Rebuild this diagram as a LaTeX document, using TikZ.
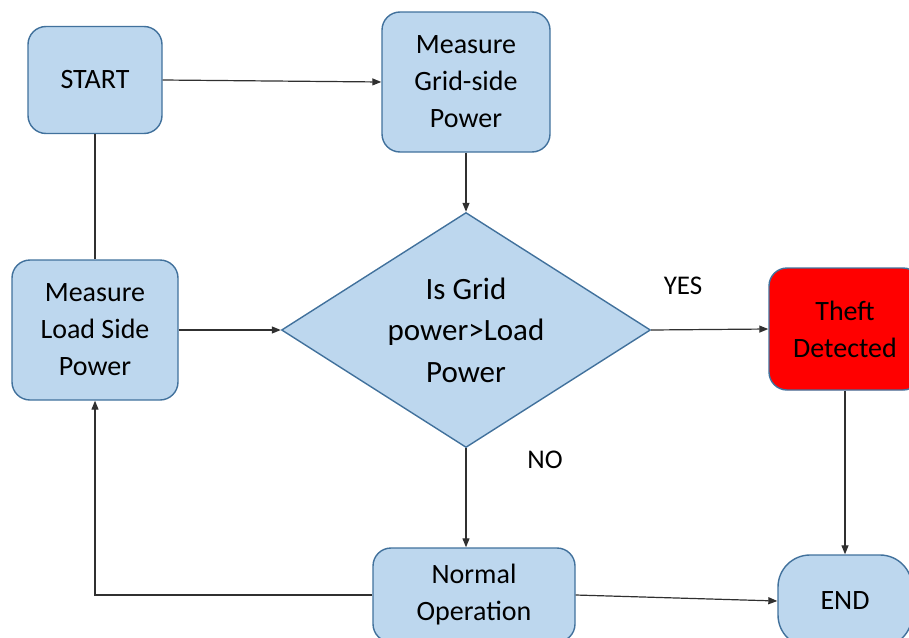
\documentclass[tikz,border=0pt]{standalone}
\usepackage{fontspec}
\setmainfont{Carlito}
\usetikzlibrary{shapes.geometric,arrows.meta}
\definecolor{boxfill}{HTML}{BDD7EE}
\definecolor{boxline}{HTML}{41719C}
\definecolor{arrowc}{HTML}{303030}
\tikzset{
  procbox/.style={draw=boxline, line width=1.4pt, fill=boxfill, rounded corners=18pt,
    align=center, inner sep=0pt, font=\fontsize{28}{37}\selectfont},
  decbox/.style={draw=boxline, line width=1.4pt, fill=boxfill, diamond, aspect=1.57,
    align=center, inner sep=0pt, font=\fontsize{31}{41.5}\selectfont},
  conn/.style={draw=arrowc, line width=1.2pt},
  arr/.style={conn, -{Triangle[length=9pt,width=7pt]}},
  lbl/.style={font=\fontsize{27}{30}\selectfont, inner sep=0pt}
}
\begin{document}
\begin{tikzpicture}[x=1pt,y=-1pt]
\useasboundingbox (0,0) rectangle (909,637);
\node[procbox, minimum width=134pt, minimum height=107pt] (start) at (95,80) {START};
\node[procbox, minimum width=168pt, minimum height=140pt] (grid) at (466,82) {Measure\\Grid-side\\Power};
\node[decbox, minimum width=369pt, minimum height=235pt] (dec) at (466,330) {Is Grid\\power>Load\\Power};
\node[procbox, minimum width=166pt, minimum height=140pt] (load) at (95,330) {Measure\\Load Side\\Power};
\node[procbox, fill=red, minimum width=152pt, minimum height=122pt] (theft) at (845,329) {Theft\\Detected};
\node[procbox, rounded corners=32pt, minimum width=134pt, minimum height=92pt] (end) at (845,601) {END};
\node[procbox, minimum width=202pt, minimum height=94pt] (norm) at (474,595) {Normal\\Operation};
\node[lbl] (yes) at (683,286) {YES};
\node[lbl] (no) at (545,460) {NO};
\draw[arr] (start.east) -- (grid.west);
\draw[arr] (grid.south) -- (dec.north);
\draw[conn] (load.north) -- (start.south);
\draw[arr] (load.east) -- (dec.west);
\draw[arr] (dec.east) -- (theft.west);
\draw[arr] (dec.south) -- (dec.south |- norm.north);
\draw[arr] (theft.south) -- (end.north);
\draw[arr] (norm.east) -- (end.west);
\draw[arr] (norm.west) -| (load.south);
\end{tikzpicture}
\end{document}
